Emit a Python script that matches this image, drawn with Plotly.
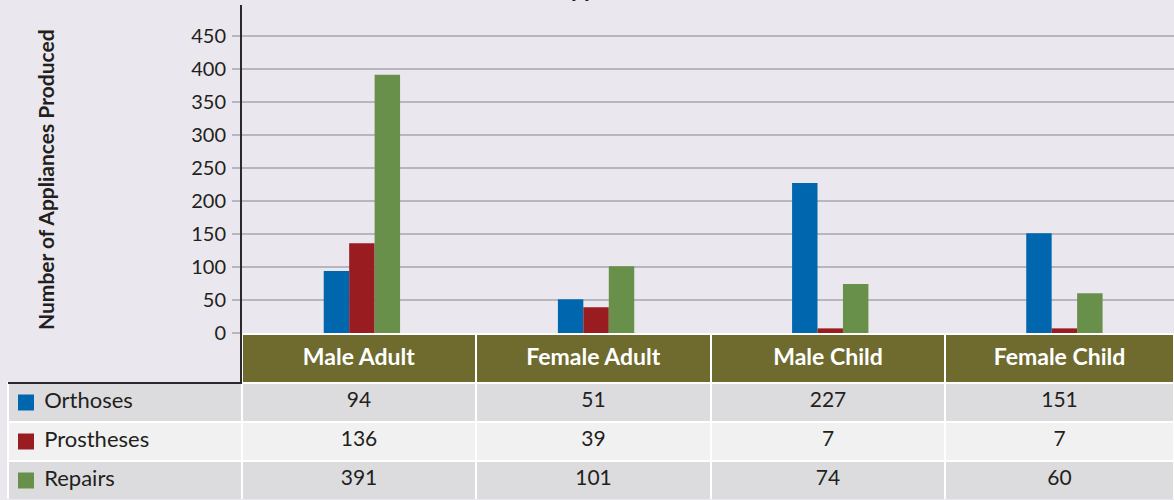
import plotly.graph_objects as go

# ---- data ----
categories = ["Male Adult", "Female Adult", "Male Child", "Female Child"]
series_names = ["Orthoses", "Prostheses", "Repairs"]
orthoses = [94, 51, 227, 151]
prostheses = [136, 39, 7, 7]
repairs = [391, 101, 74, 60]
y_ticks = [0, 50, 100, 150, 200, 250, 300, 350, 400, 450]
title_text = "Appliances Produced"
y_title = "Number of Appliances Produced"

# ---- style ----
W, H = 1174, 500
BG = "#EAE8EE"
OLIVE = "#6F6B2F"
GRID = "#B7B6BC"
AXIS = "#2A2A2C"
TEXT = "#231F20"
FONT = "Lato"
colors = ["#0067AE", "#981C20", "#68904A"]
row_fill = ["#DCDCDE", "#F1F1F1", "#DCDCDE"]

def px(v):
    return v / W

def py(v):
    return 1 - v / H

plot_left, plot_top, plot_bottom = 242, 5, 333
table_left, table_top = 8, 334
header_h, row_h = 49, 39

series = [orthoses, prostheses, repairs]

fig = go.Figure()
for name, vals, c in zip(series_names, series, colors):
    fig.add_trace(go.Bar(x=categories, y=vals, name=name,
                         marker=dict(color=c, line=dict(width=0)),
                         hoverinfo="skip"))

header_vals = [""] + ["<b>%s</b>" % c for c in categories]
cell_vals = [["\u00a0" * 5 + n for n in series_names]] + \
            [[s[i] for s in series] for i in range(len(categories))]

fig.add_trace(go.Table(
    domain=dict(x=[px(table_left), 1], y=[0, py(table_top)]),
    columnwidth=[234, 234, 235, 234, 229],
    header=dict(values=header_vals,
                fill_color=["rgba(0,0,0,0)"] + [OLIVE] * len(categories),
                line=dict(color=["rgba(0,0,0,0)"] + ["white"] * len(categories), width=2),
                font=dict(color="white", size=23, family=FONT),
                height=header_h, align="center"),
    cells=dict(values=cell_vals,
               fill_color=[row_fill] * (len(categories) + 1),
               line=dict(color="white", width=2),
               font=dict(color=TEXT, size=[22] + [21] * len(categories), family=FONT),
               height=row_h, align=["left"] + ["center"] * len(categories)),
))

shapes = []
for i, c in enumerate(colors):
    yc = table_top + header_h + row_h * i + row_h / 2
    shapes.append(dict(type="rect", xref="paper", yref="paper",
                       x0=px(18), x1=px(34), y0=py(yc - 8), y1=py(yc + 8),
                       fillcolor=c, line=dict(width=0)))
shapes.append(dict(type="line", xref="paper", yref="paper",
                   x0=px(plot_left - 1), x1=px(plot_left - 1),
                   y0=py(plot_bottom), y1=py(table_top + header_h + 1),
                   line=dict(color=AXIS, width=2)))
shapes.append(dict(type="line", xref="paper", yref="paper",
                   x0=px(table_left), x1=px(plot_left),
                   y0=py(table_top + header_h), y1=py(table_top + header_h),
                   line=dict(color=AXIS, width=2)))

annotations = [
    dict(text="<b>%s</b>" % y_title, textangle=-90, xref="paper", yref="paper",
         x=px(45), y=py(180), xanchor="center", yanchor="middle", showarrow=False,
         font=dict(size=21, color=TEXT, family=FONT)),
    dict(text="<b>%s</b>" % title_text, xref="paper", yref="paper",
         x=px(552), y=py(4), xanchor="left", yanchor="bottom", showarrow=False,
         font=dict(size=23, color=TEXT, family=FONT)),
]

fig.update_layout(
    width=W, height=H, autosize=False,
    margin=dict(l=0, r=0, t=0, b=0, pad=0),
    paper_bgcolor=BG, plot_bgcolor=BG,
    showlegend=False,
    barmode="group", bargap=0.674, bargroupgap=0,
    shapes=shapes, annotations=annotations,
    xaxis=dict(domain=[px(plot_left), 1], range=[-0.512, 3.468],
               showticklabels=False, ticks="", showgrid=False, automargin=False,
               showline=True, linecolor=AXIS, linewidth=2, zeroline=False),
    yaxis=dict(domain=[py(plot_bottom), py(plot_top)], range=[0, 496.5],
               tickvals=y_ticks, ticks="outside", ticklen=8, tickcolor=GRID,
               tickwidth=1.5, showgrid=True, gridcolor=GRID, gridwidth=1.5,
               showline=True, linecolor=AXIS, linewidth=2, zeroline=False,
               automargin=False,
               tickfont=dict(size=20, color=TEXT, family=FONT),
               ticklabelstandoff=2),
)

fig.write_html("out.html", config={"displayModeBar": False},
               post_script="document.body.style.margin='0';document.body.style.overflow='hidden';")
